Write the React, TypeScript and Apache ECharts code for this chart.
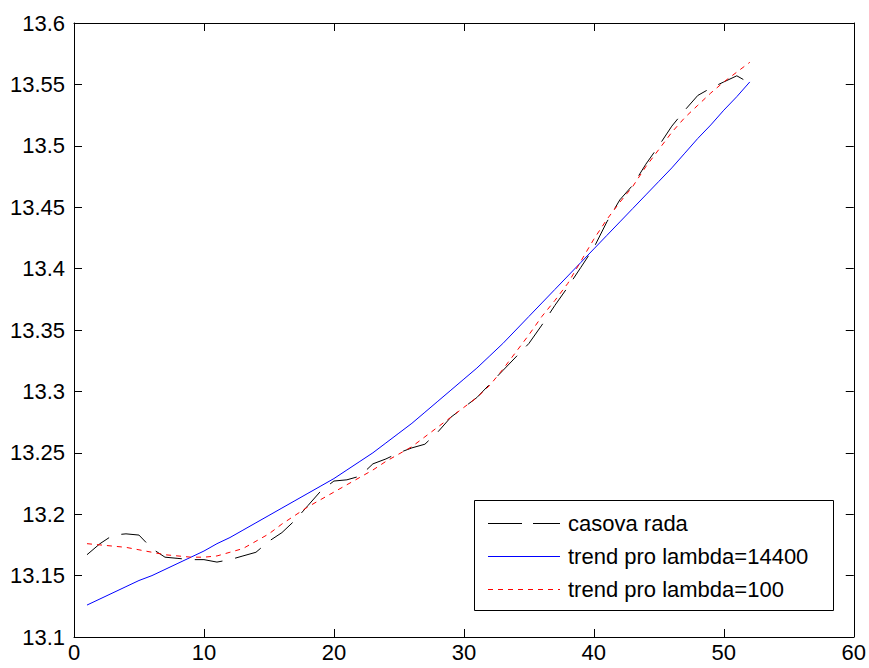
import React, { useEffect, useRef } from "react";
import * as echarts from "echarts";

const xValues = [
  1, 2, 3, 4, 5, 6, 7, 8, 9, 10, 11, 12, 13, 14, 15, 16, 17, 18, 19, 20, 21, 22, 23, 24, 25, 26,
  27, 28, 29, 30, 31, 32, 33, 34, 35, 36, 37, 38, 39, 40, 41, 42, 43, 44, 45, 46, 47, 48, 49, 50, 51, 52,
];

const casovaRada = [
  13.167, 13.176, 13.183, 13.184, 13.183, 13.172, 13.165, 13.164, 13.163, 13.163, 13.161, 13.163, 13.166,
  13.169, 13.178, 13.185, 13.195, 13.207, 13.219, 13.227, 13.228, 13.231, 13.241, 13.245, 13.25, 13.254,
  13.257, 13.267, 13.279, 13.287, 13.295, 13.306, 13.317, 13.328, 13.339, 13.354, 13.37, 13.385, 13.401,
  13.417, 13.438, 13.456, 13.468, 13.485, 13.5, 13.516, 13.529, 13.541, 13.547, 13.552, 13.557, 13.551,
];

const trend14400 = [
  13.126, 13.131, 13.136, 13.141, 13.146, 13.15, 13.155, 13.16, 13.165, 13.17, 13.176, 13.181, 13.187,
  13.193, 13.199, 13.205, 13.211, 13.217, 13.223, 13.229, 13.236, 13.243, 13.25, 13.258, 13.266, 13.274,
  13.283, 13.292, 13.301, 13.31, 13.319, 13.329, 13.339, 13.35, 13.361, 13.372, 13.383, 13.394, 13.405,
  13.416, 13.427, 13.438, 13.449, 13.46, 13.471, 13.482, 13.494, 13.506, 13.517, 13.529, 13.54, 13.552,
];

const trend100 = [
  13.176, 13.175, 13.174, 13.173, 13.171, 13.169, 13.167, 13.166, 13.165, 13.165, 13.166, 13.169, 13.172,
  13.178, 13.184, 13.192, 13.199, 13.206, 13.212, 13.218, 13.224, 13.23, 13.236, 13.243, 13.249, 13.255,
  13.263, 13.271, 13.279, 13.287, 13.295, 13.305, 13.318, 13.332, 13.346, 13.361, 13.374, 13.388, 13.406,
  13.424, 13.44, 13.454, 13.467, 13.483, 13.497, 13.511, 13.523, 13.533, 13.543, 13.552, 13.56, 13.568,
];

const seriesNames = ["casova rada", "trend pro lambda=14400", "trend pro lambda=100"];

const FONT = "'Liberation Sans', Arial, sans-serif";

export default function App() {
  const ref = useRef<HTMLDivElement>(null);

  useEffect(() => {
    if (!ref.current) return;
    const chart = echarts.init(ref.current, null, { renderer: "svg" });
    const pair = (ys: number[]) => xValues.map((x, i) => [x, ys[i]]);
    const axisCommon = {
      axisLine: { show: true, onZero: false, lineStyle: { color: "#000", width: 1 } },
      axisTick: { show: true, inside: true, length: 8, lineStyle: { color: "#000", width: 1 } },
      splitLine: { show: false },
    };
    const styles = [
      { color: "#000", dash: [28, 13], legendDash: [34, 11] },
      { color: "#0000ff", dash: null, legendDash: null },
      { color: "#ff0000", dash: [5, 5], legendDash: [5, 5] },
    ];
    const legendRowsY = [523, 556, 589];
    const legendChildren: any[] = [
      {
        type: "rect",
        shape: { x: 474.5, y: 500.5, width: 359, height: 110 },
        style: { fill: "#fff", stroke: "#000", lineWidth: 1 },
      },
    ];
    seriesNames.forEach((name, i) => {
      legendChildren.push({
        type: "line",
        shape: { x1: 488, y1: legendRowsY[i] + 0.5, x2: 560, y2: legendRowsY[i] + 0.5 },
        style: {
          stroke: styles[i].color,
          lineWidth: 1,
          lineDash: styles[i].legendDash || undefined,
        },
      });
      legendChildren.push({
        type: "text",
        x: 568,
        y: legendRowsY[i],
        style: {
          text: name,
          fill: "#000",
          font: `22px ${FONT}`,
          verticalAlign: "middle",
          align: "left",
        },
      });
    });

    chart.setOption({
      animation: false,
      backgroundColor: "#fff",
      grid: { left: 74, right: 14, top: 23, bottom: 31, containLabel: false },
      xAxis: [
        {
          type: "value",
          min: 0,
          max: 60,
          interval: 10,
          position: "bottom",
          ...axisCommon,
          axisLabel: { color: "#000", fontSize: 22, fontFamily: FONT, margin: 4 },
        },
        {
          type: "value",
          min: 0,
          max: 60,
          interval: 10,
          position: "top",
          ...axisCommon,
          axisLabel: { show: false },
        },
      ],
      yAxis: [
        {
          type: "value",
          min: 13.1,
          max: 13.6,
          interval: 0.05,
          position: "left",
          ...axisCommon,
          axisLabel: {
            color: "#000",
            fontSize: 22,
            fontFamily: FONT,
            margin: 9,
            formatter: (v: number) => String(parseFloat(v.toFixed(2))),
          },
        },
        {
          type: "value",
          min: 13.1,
          max: 13.6,
          interval: 0.05,
          position: "right",
          ...axisCommon,
          axisLabel: { show: false },
        },
      ],
      graphic: [{ type: "group", z: 100, children: legendChildren }],
      series: seriesNames.map((name, i) => ({
        name,
        type: "line",
        data: pair([casovaRada, trend14400, trend100][i]),
        symbol: "none",
        lineStyle: { color: styles[i].color, width: 1, type: styles[i].dash || "solid" },
        itemStyle: { color: styles[i].color },
      })),
    });
    return () => chart.dispose();
  }, []);

  return <div ref={ref} style={{ width: 869, height: 668, position: "absolute", left: 0, top: 0 }} />;
}
